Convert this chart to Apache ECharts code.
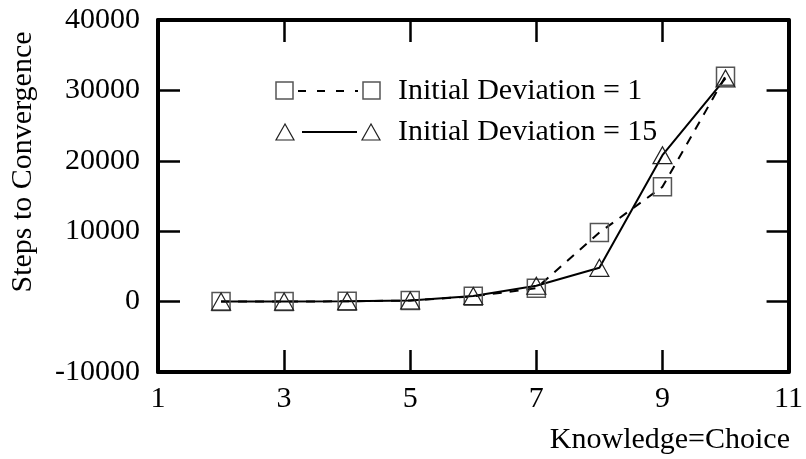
<!DOCTYPE html>
<html><head><meta charset="utf-8">
<script src="https://cdn.jsdelivr.net/npm/echarts@6/dist/echarts.min.js"></script>
<style>html,body{margin:0;padding:0;background:#fff}#c{width:806px;height:459px}</style>
</head><body><div id="c"></div>
<script>
const knowledge = [2, 3, 4, 5, 6, 7, 8, 9, 10];
const dev1 = [0, 0, 50, 150, 750, 1900, 9800, 16300, 32000];
const dev15 = [0, 0, 50, 150, 800, 2250, 4800, 20800, 31700];
const legendLabels = ['Initial Deviation = 1', 'Initial Deviation = 15'];
const yName = 'Steps to Convergence';
const xName = 'Knowledge=Choice';

const font = 'Liberation Serif';
const chart = echarts.init(document.getElementById('c'));
const axisCommon = () => ({
  axisLine: {show: true, onZero: false, lineStyle: {color: '#000', width: 4}},
  axisTick: {show: true, inside: true, length: 22, lineStyle: {color: '#000', width: 2.5}},
  splitLine: {show: false}
});
chart.setOption({
  animation: false,
  grid: {left: 158, right: 13, top: 20, bottom: 87},
  xAxis: [
    Object.assign({type: 'value', min: 1, max: 11, interval: 2, position: 'bottom',
      axisLabel: {color: '#000', fontFamily: font, fontSize: 30, margin: 12, formatter: v => String(v)}}, axisCommon()),
    Object.assign({type: 'value', min: 1, max: 11, interval: 2, position: 'top',
      axisLabel: {show: false}}, axisCommon())
  ],
  yAxis: [
    Object.assign({type: 'value', min: -10000, max: 40000, interval: 10000, position: 'left',
      axisLabel: {color: '#000', fontFamily: font, fontSize: 30, margin: 18, formatter: v => String(v)}}, axisCommon()),
    Object.assign({type: 'value', min: -10000, max: 40000, interval: 10000, position: 'right',
      axisLabel: {show: false}}, axisCommon())
  ],
  series: [
    {type: 'line', data: knowledge.map((x, i) => [x, dev1[i]]), symbol: 'rect', symbolSize: 18,
      lineStyle: {color: '#000', width: 2, type: [9, 8]},
      itemStyle: {color: 'rgba(0,0,0,0)', borderColor: '#555', borderWidth: 1.5}},
    {type: 'line', data: knowledge.map((x, i) => [x, dev15[i]]), symbol: 'triangle', symbolSize: [19, 17],
      lineStyle: {color: '#000', width: 2},
      itemStyle: {color: 'rgba(0,0,0,0)', borderColor: '#222', borderWidth: 1.2}}
  ],
  graphic: [
    {type: 'rect', shape: {x: 276, y: 82, width: 17, height: 17}, style: {fill: 'none', stroke: '#555', lineWidth: 1.5}},
    {type: 'line', shape: {x1: 298, y1: 91, x2: 358, y2: 91}, style: {stroke: '#000', lineWidth: 2, lineDash: [8, 11]}},
    {type: 'rect', shape: {x: 363, y: 82, width: 17, height: 17}, style: {fill: 'none', stroke: '#555', lineWidth: 1.5}},
    {type: 'text', x: 398, y: 91, style: {text: legendLabels[0], font: '30px "Liberation Serif"', fill: '#000', verticalAlign: 'middle'}},
    {type: 'polygon', shape: {points: [[285, 124], [276, 140], [294, 140]]}, style: {fill: 'none', stroke: '#222', lineWidth: 1.2}},
    {type: 'line', shape: {x1: 302, y1: 132, x2: 357, y2: 132}, style: {stroke: '#000', lineWidth: 2}},
    {type: 'polygon', shape: {points: [[371, 124], [362, 140], [380, 140]]}, style: {fill: 'none', stroke: '#222', lineWidth: 1.2}},
    {type: 'text', x: 398, y: 132, style: {text: legendLabels[1], font: '30px "Liberation Serif"', fill: '#000', verticalAlign: 'middle'}},
    {type: 'text', x: 23, y: 162, rotation: Math.PI / 2, style: {text: yName, font: '30px "Liberation Serif"', fill: '#000', align: 'center', verticalAlign: 'middle'}},
    {type: 'text', x: 790, y: 440, style: {text: xName, font: '30px "Liberation Serif"', fill: '#000', align: 'right', verticalAlign: 'middle'}}
  ]
});
</script></body></html>
